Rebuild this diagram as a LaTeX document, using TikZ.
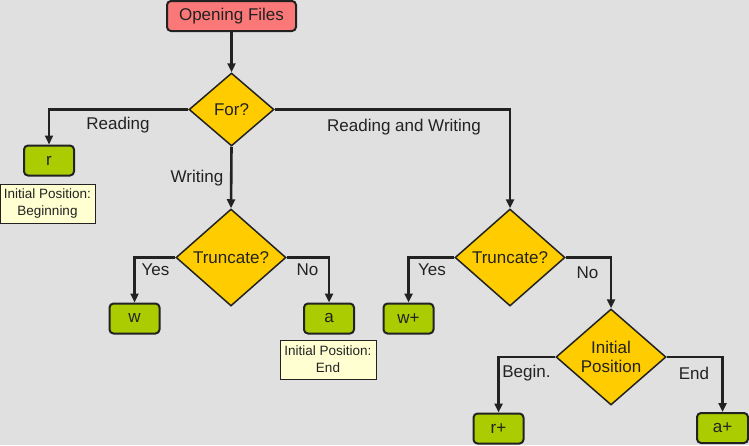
\documentclass[tikz,border=0pt]{standalone}
\usepackage{fontspec}
\setmainfont{Liberation Sans}
\usetikzlibrary{shapes.geometric,arrows.meta}
\definecolor{bgc}{HTML}{E0E0E0}
\definecolor{pinkc}{HTML}{FA7878}
\definecolor{yelc}{HTML}{FFCC00}
\definecolor{grnc}{HTML}{AACC00}
\definecolor{notec}{HTML}{FFFFD2}
\definecolor{linec}{HTML}{222222}
\tikzset{
  base/.style={font=\fontsize{17}{20}\selectfont, text=linec, inner sep=0pt},
  startbox/.style={base, draw=linec, line width=2pt, fill=pinkc, rounded corners=4pt, minimum width=129pt, minimum height=30pt},
  decide/.style={base, diamond, draw=linec, line width=1.5pt, fill=yelc, align=center},
  modebox/.style={base, draw=linec, line width=2pt, fill=grnc, rounded corners=4pt, minimum width=50pt, minimum height=30pt},
  notebox/.style={font=\fontsize{13.5}{17}\selectfont, text=linec, draw=linec, line width=1pt, fill=notec, align=center, inner sep=0pt},
  lbl/.style={base},
  conn/.style={draw=linec, line width=2.6pt, -{Triangle[length=9pt,width=8pt]}},
}
\begin{document}
\begin{tikzpicture}[x=1pt,y=-1pt]
\fill[bgc] (0,0) rectangle (749,445);
\useasboundingbox (0,0) rectangle (749,445);

\node[startbox] (open) at (231.5,16) {Opening Files};
\node[decide, minimum width=85pt, minimum height=73pt] (for) at (231.5,109.5) {For?};
\node[modebox] (r) at (49,160.5) {r};
\node[notebox, minimum width=95pt, minimum height=39pt] (n1) at (47.5,203.5) {Initial Position:\\Beginning};

\node[decide, minimum width=110pt, minimum height=97pt] (t1) at (231,257.5) {Truncate?};
\node[modebox] (w) at (134.5,318.5) {w};
\node[modebox] (a) at (329,318.5) {a};
\node[notebox, minimum width=96pt, minimum height=39pt] (n2) at (328,359.5) {Initial Position:\\End};

\node[decide, minimum width=110pt, minimum height=97pt] (t2) at (510,257.5) {Truncate?};
\node[modebox] (wp) at (408.5,318.5) {w+};
\node[decide, minimum width=110pt, minimum height=96pt] (ip) at (611,357) {Initial\\[-1pt]Position};
\node[modebox] (rp) at (498.5,428.5) {r+};
\node[modebox, minimum width=51pt] (ap) at (722.5,428) {a+};

\node[lbl] (lread) at (118,125) {Reading};
\node[lbl] (lrw) at (404,127) {Reading and Writing};
\node[lbl] (lwrite) at (197,178) {Writing};
\node[lbl] (lyes1) at (155.5,270) {Yes};
\node[lbl] (lno1) at (307.5,270) {No};
\node[lbl] (lyes2) at (432,270) {Yes};
\node[lbl] (lno2) at (587.5,273) {No};
\node[lbl] (lbeg) at (526.5,373) {Begin.};
\node[lbl] (lend) at (694,373) {End};

\draw[conn] (open.south) -- (for.north);
\draw[conn] (for.west) -| (r.north);
\draw[conn] (for.south) -- (t1.north);
\draw[conn] (for.east) -| (t2.north);
\draw[conn] (t1.west) -| (w.north);
\draw[conn] (t1.east) -| (a.north);
\draw[conn] (t2.west) -| (wp.north);
\draw[conn] (t2.east) -| (ip.north);
\draw[conn] (ip.west) -| (rp.north);
\draw[conn] (ip.east) -| (ap.north);
\end{tikzpicture}
\end{document}
